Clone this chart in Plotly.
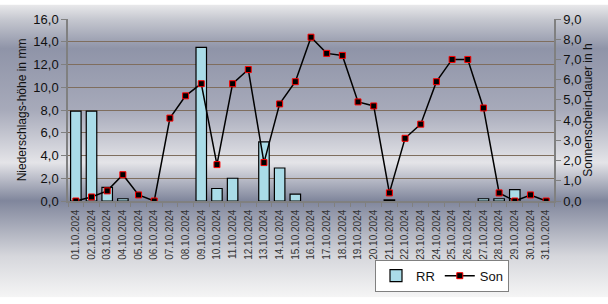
import base64
import plotly.graph_objects as go

dates = [f"{d:02d}.10.2024" for d in range(1, 32)]
rr = [7.9, 7.9, 1.2, 0.2, 0.0, 0.0, 0.0, 0.0, 13.5, 1.1, 2.0, 0.0, 5.2, 2.9, 0.6, 0.0,
      0.0, 0.0, 0.0, 0.0, 0.1, 0.0, 0.0, 0.0, 0.0, 0.0, 0.2, 0.2, 1.0, 0.0, 0.0]
son = [0.0, 0.2, 0.5, 1.3, 0.3, 0.0, 4.1, 5.2, 5.8, 1.8, 5.8, 6.5, 1.9, 4.8, 5.9, 8.1,
       7.3, 7.2, 4.9, 4.7, 0.4, 3.1, 3.8, 5.9, 7.0, 7.0, 4.6, 0.4, 0.0, 0.3, 0.0]

W, H = 608, 304
ML, MR, MT, MB = 68, 54, 15, 100
PW, PH = W - ML - MR, H - MT - MB

svg = f'''<svg xmlns="http://www.w3.org/2000/svg" width="{W}" height="{H}" preserveAspectRatio="none">
<defs><linearGradient id="g" x1="0" y1="0" x2="0" y2="1">
<stop offset="0" stop-color="#e9e9eb"/>
<stop offset="0.05" stop-color="#c6c8d0"/>
<stop offset="0.15" stop-color="#8f94a8"/>
<stop offset="0.36" stop-color="#a7aaba"/>
<stop offset="0.54" stop-color="#e4e4e8"/>
<stop offset="0.67" stop-color="#80869c"/>
<stop offset="0.86" stop-color="#d6d7dc"/>
<stop offset="1" stop-color="#f5f5f5"/>
</linearGradient></defs>
<rect x="0" y="0" width="{W}" height="{H}" fill="url(#g)"/></svg>'''
src = "data:image/svg+xml;base64," + base64.b64encode(svg.encode()).decode()

bar_line_w = [1.2 if v > 0 else 0 for v in rr]

fig = go.Figure()
fig.add_trace(go.Bar(
    x=dates, y=rr, name="RR", yaxis="y",
    marker=dict(color="#aadce8", line=dict(color="#000000", width=bar_line_w)),
))
fig.add_trace(go.Scatter(
    x=dates, y=son, name="Son", yaxis="y2", mode="lines+markers",
    line=dict(color="#000000", width=1.5),
    marker=dict(symbol="square", size=6, color="#000000",
                line=dict(color="#ff0000", width=1)),
))

font = "Arial, Liberation Sans, sans-serif"
fig.update_layout(
    width=W, height=H,
    margin=dict(l=ML, r=MR, t=MT, b=MB, pad=0),
    paper_bgcolor="#ffffff",
    plot_bgcolor="#FFCC99",
    separators=", ",
    bargap=0.33,
    font=dict(family=font, color="#111111"),
    showlegend=True,
    legend=dict(
        orientation="h", x=(375 - ML) / PW, y=(MT + PH - 265) / PH,
        xanchor="left", yanchor="top",
        bgcolor="#ffffff", bordercolor="#808080", borderwidth=1,
        font=dict(size=13, family=font, color="#111111"),
        itemwidth=30, tracegroupgap=0,
    ),
    xaxis=dict(
        type="category", tickangle=-90, tickfont=dict(size=10, color="#333333"),
        tickson="boundaries", ticks="outside", ticklen=4, tickcolor="#808080",
        ticklabelstandoff=3,
        showline=True, linecolor="#808080", linewidth=1.5,
        showgrid=False, range=[-0.5, 30.5],
    ),
    yaxis=dict(
        range=[0, 16], dtick=2, tickformat=".1f",
        tickfont=dict(size=13, color="#111111"),
        ticks="outside", ticklen=5, tickcolor="#808080",
        showline=True, linecolor="#808080", linewidth=1.5,
        showgrid=True, gridcolor="#7f6e5e", gridwidth=1,
        zeroline=False,
        title=dict(text="Niederschlags-höhe in mm", font=dict(size=12, color="#111111"),
                   standoff=4),
    ),
    yaxis2=dict(
        range=[0, 9], dtick=1, tickformat=".1f", overlaying="y", side="right",
        tickfont=dict(size=13, color="#111111"),
        ticks="outside", ticklen=5, tickcolor="#808080",
        showline=True, linecolor="#808080", linewidth=1.5,
        showgrid=False, zeroline=False,
        title=dict(text="Sonnenschein-dauer in h", font=dict(size=12, color="#111111"),
                   standoff=2),
    ),
    images=[dict(
        source=src, xref="paper", yref="paper",
        x=-ML / PW, y=(PH + MT) / PH, sizex=W / PW, sizey=H / PH,
        xanchor="left", yanchor="top", sizing="stretch", layer="below",
    )],
)

fig.write_html("out.html")
